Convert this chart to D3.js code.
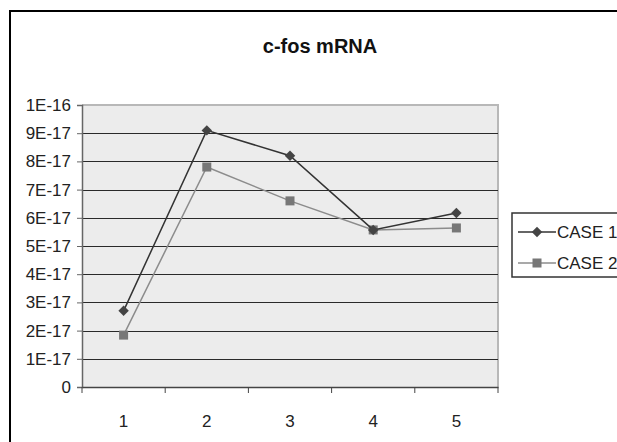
<!DOCTYPE html>
<html>
<head>
<meta charset="utf-8">
<script src="https://cdn.jsdelivr.net/npm/d3@7"></script>
<style>
  body { margin: 0; background: #fff; }
  text { font-family: Arial, "Liberation Sans", sans-serif; }
</style>
</head>
<body>
<svg id="chart" width="617" height="442"></svg>
<script>
// data
const categories = ["1", "2", "3", "4", "5"];
const case1 = [2.7e-17, 9.1e-17, 8.2e-17, 5.57e-17, 6.17e-17];
const case2 = [1.84e-17, 7.8e-17, 6.6e-17, 5.57e-17, 5.64e-17];
const yTicks = [0, 1e-17, 2e-17, 3e-17, 4e-17, 5e-17, 6e-17, 7e-17, 8e-17, 9e-17, 1e-16];
const yTickLabels = ["0", "1E-17", "2E-17", "3E-17", "4E-17", "5E-17", "6E-17", "7E-17", "8E-17", "9E-17", "1E-16"];
const seriesNames = ["CASE 1", "CASE 2"];

const svg = d3.select("#chart");
const plot = { left: 82, top: 105, right: 498, bottom: 387 };
const font = "Arial, 'Liberation Sans', sans-serif";

// outer chart frame (runs off the right and bottom of the picture)
svg.append("rect")
  .attr("x", 10).attr("y", 11)
  .attr("width", 640).attr("height", 450)
  .attr("fill", "#fff").attr("stroke", "#000").attr("stroke-width", 2);

svg.append("text")
  .attr("x", 320).attr("y", 53)
  .attr("text-anchor", "middle")
  .attr("font-size", 20).attr("font-weight", "bold").attr("fill", "#111")
  .text("c-fos mRNA");

const x = d3.scaleBand().domain(categories).range([plot.left, plot.right]);
const y = d3.scaleLinear().domain([0, 1e-16]).range([plot.bottom, plot.top]);

// plot area
svg.append("rect")
  .attr("x", plot.left).attr("y", plot.top)
  .attr("width", plot.right - plot.left).attr("height", plot.bottom - plot.top)
  .attr("fill", "#ececec");
svg.append("path")
  .attr("d", `M${plot.left},${plot.top}H${plot.right}V${plot.bottom}`)
  .attr("fill", "none").attr("stroke", "#b8b8b8").attr("stroke-width", 2);

// gridlines
svg.append("g").selectAll("line")
  .data(yTicks.filter(d => d > 0 && d < 1e-16))
  .join("line")
  .attr("x1", plot.left).attr("x2", plot.right)
  .attr("y1", d => Math.round(y(d)) + 0.5).attr("y2", d => Math.round(y(d)) + 0.5)
  .attr("stroke", "#2a2a2a");

// y axis
const yAxis = svg.append("g")
  .attr("transform", `translate(${plot.left},0)`)
  .call(d3.axisLeft(y).tickValues(yTicks).tickSize(5).tickPadding(6)
    .tickFormat((d, i) => yTickLabels[i]));
yAxis.select(".domain").attr("stroke", "#666").attr("stroke-width", 1.5);
yAxis.selectAll(".tick line").attr("stroke", "#666");
yAxis.selectAll("text").attr("font-size", 17).attr("fill", "#222")
  .attr("font-family", font);

// x axis, ticks on category boundaries
const xAxis = svg.append("g")
  .attr("transform", `translate(0,${plot.bottom})`)
  .call(d3.axisBottom(x).tickSize(0).tickPadding(28));
xAxis.select(".domain").attr("stroke", "#444").attr("stroke-width", 1.5);
xAxis.selectAll("text").attr("font-size", 17).attr("fill", "#222")
  .attr("font-family", font);
svg.append("g").selectAll("line")
  .data(categories.map(c => x(c)).concat([x(categories[categories.length - 1]) + x.bandwidth()]))
  .join("line")
  .attr("x1", d => d).attr("x2", d => d)
  .attr("y1", plot.bottom).attr("y2", plot.bottom + 6)
  .attr("stroke", "#444");

const cx = c => x(c) + x.bandwidth() / 2;
const line = d3.line().x((d, i) => cx(categories[i])).y(d => y(d));

// CASE 2 (behind)
svg.append("path").datum(case2)
  .attr("d", line).attr("fill", "none")
  .attr("stroke", "#8c8c8c").attr("stroke-width", 1.5);
svg.append("g").selectAll("rect")
  .data(case2).join("rect")
  .attr("x", (d, i) => cx(categories[i]) - 4.5).attr("y", d => y(d) - 4.5)
  .attr("width", 9).attr("height", 9)
  .attr("fill", "#777");

// CASE 1
svg.append("path").datum(case1)
  .attr("d", line).attr("fill", "none")
  .attr("stroke", "#333").attr("stroke-width", 1.5);
const diamond = d3.symbol().type(d3.symbolDiamond2).size(70);
svg.append("g").selectAll("path")
  .data(case1).join("path")
  .attr("transform", (d, i) => `translate(${cx(categories[i])},${y(d)})`)
  .attr("d", diamond)
  .attr("fill", "#444");

// legend
svg.append("rect")
  .attr("x", 512).attr("y", 213)
  .attr("width", 130).attr("height", 64)
  .attr("fill", "#fff").attr("stroke", "#333").attr("stroke-width", 1.5);
const lg = svg.append("g");
seriesNames.forEach((name, i) => {
  const ly = 232 + i * 31;
  lg.append("line")
    .attr("x1", 518).attr("x2", 556).attr("y1", ly).attr("y2", ly)
    .attr("stroke", i === 0 ? "#333" : "#8c8c8c").attr("stroke-width", 1.5);
  if (i === 0) {
    lg.append("path").attr("transform", `translate(537,${ly})`)
      .attr("d", diamond).attr("fill", "#444");
  } else {
    lg.append("rect").attr("x", 532.5).attr("y", ly - 4.5)
      .attr("width", 9).attr("height", 9).attr("fill", "#777");
  }
  lg.append("text")
    .attr("x", 557).attr("y", ly + 6)
    .attr("font-size", 17).attr("fill", "#222")
    .text(name);
});
</script>
</body>
</html>
